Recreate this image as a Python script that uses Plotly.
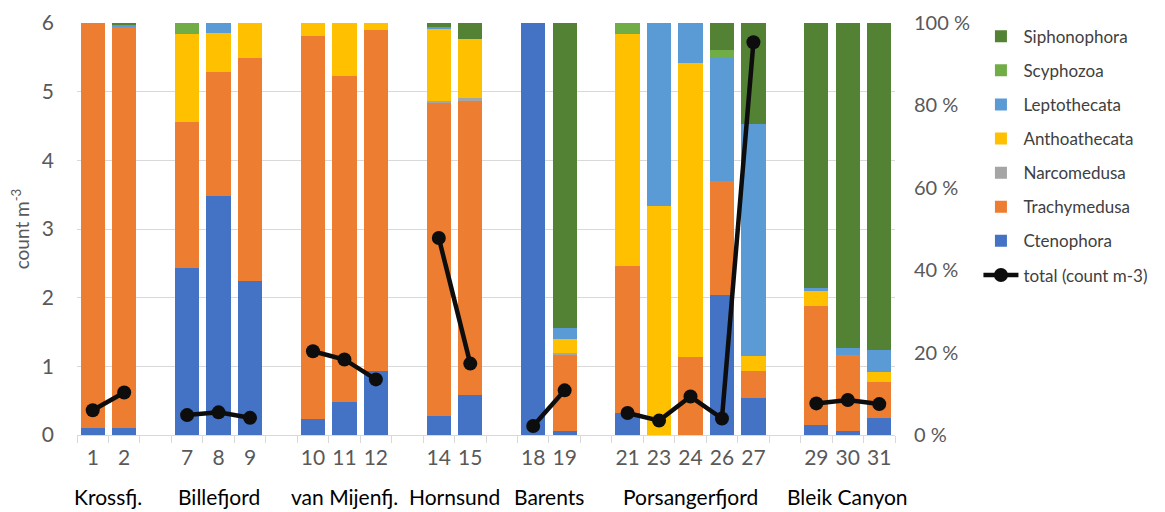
import plotly.graph_objects as go

stations = ["1", "2", "7", "8", "9", "10", "11", "12", "14", "15", "18", "19",
            "21", "23", "24", "26", "27", "29", "30", "31"]
regions = ["Krossfj.", "Krossfj.", "Billefjord", "Billefjord", "Billefjord",
           "van Mijenfj.", "van Mijenfj.", "van Mijenfj.", "Hornsund", "Hornsund",
           "Barents", "Barents", "Porsangerfjord", "Porsangerfjord", "Porsangerfjord",
           "Porsangerfjord", "Porsangerfjord", "Bleik Canyon", "Bleik Canyon", "Bleik Canyon"]

# percent composition per station
ctenophora = [1.8, 1.8, 40.5, 57.9, 37.3, 3.9, 8.1, 15.6, 4.6, 9.6, 100, 1.0, 5.3, 0, 0, 34.0, 9.0, 2.4, 1.0, 4.2]
trachymedusa = [98.2, 97.4, 35.5, 30.2, 54.1, 93.0, 79.1, 82.6, 75.9, 71.5, 0, 18.3, 35.7, 0, 19.0, 27.6, 6.6, 28.8, 18.4, 8.7]
narcomedusa = [0, 0, 0, 0, 0, 0, 0, 0, 0.5, 0.6, 0, 0.5, 0, 0, 0, 0, 0, 0, 0, 0]
anthoathecata = [0, 0, 21.4, 9.4, 8.6, 3.1, 12.8, 1.8, 17.5, 14.5, 0, 3.4, 56.3, 55.5, 71.4, 0, 3.6, 3.7, 0, 2.4]
leptothecata = [0, 0.3, 0, 2.5, 0, 0, 0, 0, 0.6, 0, 0, 2.8, 0, 44.5, 9.6, 29.8, 56.2, 0.7, 1.6, 5.3]
scyphozoa = [0, 0, 2.6, 0, 0, 0, 0, 0, 0, 0, 0, 0, 2.7, 0, 0, 2.1, 0, 0, 0, 0]
siphonophora = [0, 0.5, 0, 0, 0, 0, 0, 0, 0.9, 3.8, 0, 74.0, 0, 0, 0, 6.5, 24.6, 64.4, 79.0, 79.4]

# total abundance (count m-3)
total = [0.36, 0.62, 0.29, 0.33, 0.25, 1.22, 1.10, 0.81, 2.87, 1.04, 0.13, 0.65,
         0.32, 0.21, 0.56, 0.24, 5.72, 0.46, 0.51, 0.45]

pct_ticks = [0, 20, 40, 60, 80, 100]
pct_labels = ["0 %", "20 %", "40 %", "60 %", "80 %", "100 %"]

series = [
    ("Ctenophora", ctenophora, "#4472C4", 7),
    ("Trachymedusa", trachymedusa, "#ED7D31", 6),
    ("Narcomedusa", narcomedusa, "#A5A5A5", 5),
    ("Anthoathecata", anthoathecata, "#FFC000", 4),
    ("Leptothecata", leptothecata, "#5B9BD5", 3),
    ("Scyphozoa", scyphozoa, "#70AD47", 2),
    ("Siphonophora", siphonophora, "#548235", 1),
]

# build category axis with blank gap slots between regions
cats = []
idx_of_station = []
gap_n = 0
prev = None
for s, r in zip(stations, regions):
    if prev is not None and r != prev:
        gap_n += 1
        cats.append(" " * gap_n)
    idx_of_station.append(len(cats))
    cats.append(s)
    prev = r


def expand(vals):
    out = [None] * len(cats)
    for i, v in zip(idx_of_station, vals):
        out[i] = v
    return out


fig = go.Figure()
for name, vals, color, rank in series:
    fig.add_trace(go.Bar(
        x=cats, y=expand(vals), name=name, marker=dict(color=color, line=dict(width=0)),
        yaxis="y", legendrank=rank, legendgroup=name,
    ))

fig.add_trace(go.Scatter(
    x=cats, y=expand(total), name="total (count m-3)", mode="lines+markers",
    line=dict(color="#0d0d0d", width=4.5), marker=dict(color="#0d0d0d", size=14),
    yaxis="y2", connectgaps=False, legendrank=8, legendgroup="total",
))

# region labels
ann = []
region_order = []
for r in regions:
    if r not in region_order:
        region_order.append(r)
for r in region_order:
    ids = [idx_of_station[i] for i, rr in enumerate(regions) if rr == r]
    ann.append(dict(x=sum(ids) / len(ids), y=-0.15, xref="x", yref="paper",
                    text=r, showarrow=False, yanchor="middle",
                    font=dict(family="Lato", size=21, color="#000000")))

# the page body has an 8px margin, so the figure is sized to fit the window
fig.update_layout(
    width=1157, height=504,
    margin=dict(l=69, r=270, t=14, b=77),
    paper_bgcolor="white", plot_bgcolor="white",
    barmode="stack", bargap=0.23,
    font=dict(family="Lato", color="#595959"),
    xaxis=dict(type="category", categoryarray=cats, categoryorder="array",
               tickson="boundaries", ticks="outside", ticklen=7, tickcolor="#d9d9d9",
               showline=True, linecolor="#d9d9d9", linewidth=1, showgrid=False,
               tickfont=dict(size=21, color="#595959"), ticklabelstandoff=4,
               tickangle=0, automargin=False,
               range=[-0.5, len(cats) - 0.5]),
    yaxis=dict(range=[0, 100], side="right", showgrid=False, zeroline=False,
               tickmode="array", tickvals=pct_ticks, ticktext=pct_labels,
               tickfont=dict(size=20, color="#595959"), ticklabelstandoff=18,
               automargin=False),
    yaxis2=dict(range=[0, 6], overlaying="y", side="left", showgrid=True,
                gridcolor="#d9d9d9", gridwidth=1, zeroline=False, dtick=1,
                tickfont=dict(size=21, color="#595959"), ticklabelstandoff=22,
                automargin=False,
                title=dict(text="count m<sup>-3</sup>", font=dict(size=19, color="#595959"),
                           standoff=15)),
    legend=dict(x=1.102, y=1.008, xanchor="left", yanchor="top", traceorder="grouped",
                font=dict(size=17, color="#404040"), tracegroupgap=9,
                itemwidth=35, bgcolor="rgba(0,0,0,0)", maxheight=460),
    annotations=ann,
)

fig.write_html("out.html")
